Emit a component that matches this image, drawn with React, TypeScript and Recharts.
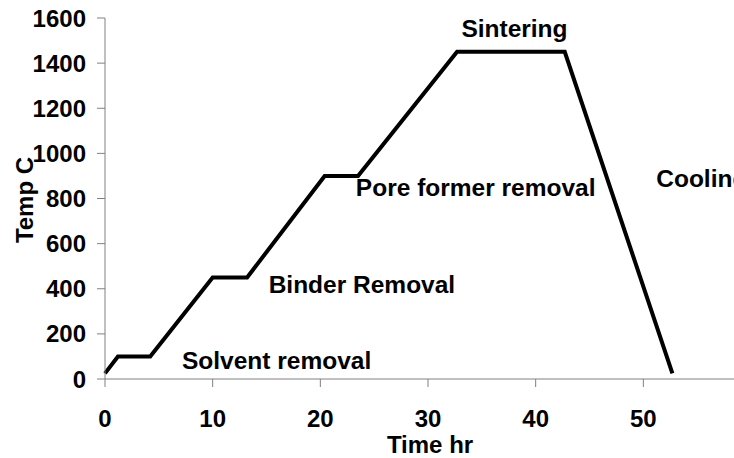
import React from 'react';
import { ComposedChart, Line, Scatter, XAxis, YAxis } from 'recharts';

// firing schedule
const timeHr = [0, 1.2, 4.2, 10, 13.2, 20.4, 23.5, 32.7, 42.7, 52.7];
const tempC = [25, 100, 100, 450, 450, 900, 900, 1450, 1450, 25];

// stage annotations (left edge / baseline in data units)
const stageNames = ['Solvent removal', 'Binder Removal', 'Pore former removal', 'Sintering', 'Cooling'];
const stageHr = [7.15, 15.2, 23.3, 33.1, 51.2];
const stageTemp = [44, 382, 813, 1518, 849];

// the axis runs to 60, but only 0-50 fall inside the visible picture
const xTicks = [0, 10, 20, 30, 40, 50];
const yTicks = [0, 200, 400, 600, 800, 1000, 1200, 1400, 1600];

const FONT = '"Liberation Sans", Arial, sans-serif';
const AXIS_GREY = '#808080';

const schedule = timeHr.map((hr, i) => ({ hr, temp: tempC[i] }));
const stages = stageNames.map((text, i) => ({ hr: stageHr[i], temp: stageTemp[i], text }));

const tickStyle = { fill: '#000', fontSize: 24, fontWeight: 'bold', fontFamily: FONT };

const StageText = (props: any) => (
  <text
    x={props.cx}
    y={props.cy}
    fill="#000"
    fontSize={24.5}
    fontWeight="bold"
    fontFamily={FONT}
  >
    {props.payload.text}
  </text>
);

const YTitle = () => (
  <text
    x={33}
    y={200}
    transform="rotate(-90, 33, 200)"
    textAnchor="middle"
    fill="#000"
    fontSize={24}
    fontWeight="bold"
    fontFamily={FONT}
  >
    Temp C
  </text>
);

const XTitle = () => (
  <text
    x={430}
    y={453}
    textAnchor="middle"
    fill="#000"
    fontSize={24}
    fontWeight="bold"
    fontFamily={FONT}
  >
    Time hr
  </text>
);

export default function App() {
  return (
    <div style={{ position: 'absolute', left: 0, top: 0, width: 734, height: 458, overflow: 'hidden', background: '#fff' }}>
      <ComposedChart width={760} height={458} margin={{ top: 18, right: 9, bottom: 0, left: 0 }}>
        <XAxis
          type="number"
          dataKey="hr"
          domain={[0, 60]}
          ticks={xTicks}
          height={79}
          stroke={AXIS_GREY}
          tickSize={8}
          tickMargin={23}
          tick={tickStyle}
          label={XTitle}
        />
        <YAxis
          type="number"
          dataKey="temp"
          domain={[0, 1600]}
          ticks={yTicks}
          width={105}
          stroke={AXIS_GREY}
          tickSize={8}
          tickMargin={11}
          tick={tickStyle}
          label={YTitle}
        />
        <Line
          data={schedule}
          dataKey="temp"
          type="linear"
          stroke="#000"
          strokeWidth={4}
          dot={false}
          activeDot={false}
          isAnimationActive={false}
        />
        <Scatter data={stages} dataKey="temp" shape={StageText} isAnimationActive={false} />
      </ComposedChart>
    </div>
  );
}
